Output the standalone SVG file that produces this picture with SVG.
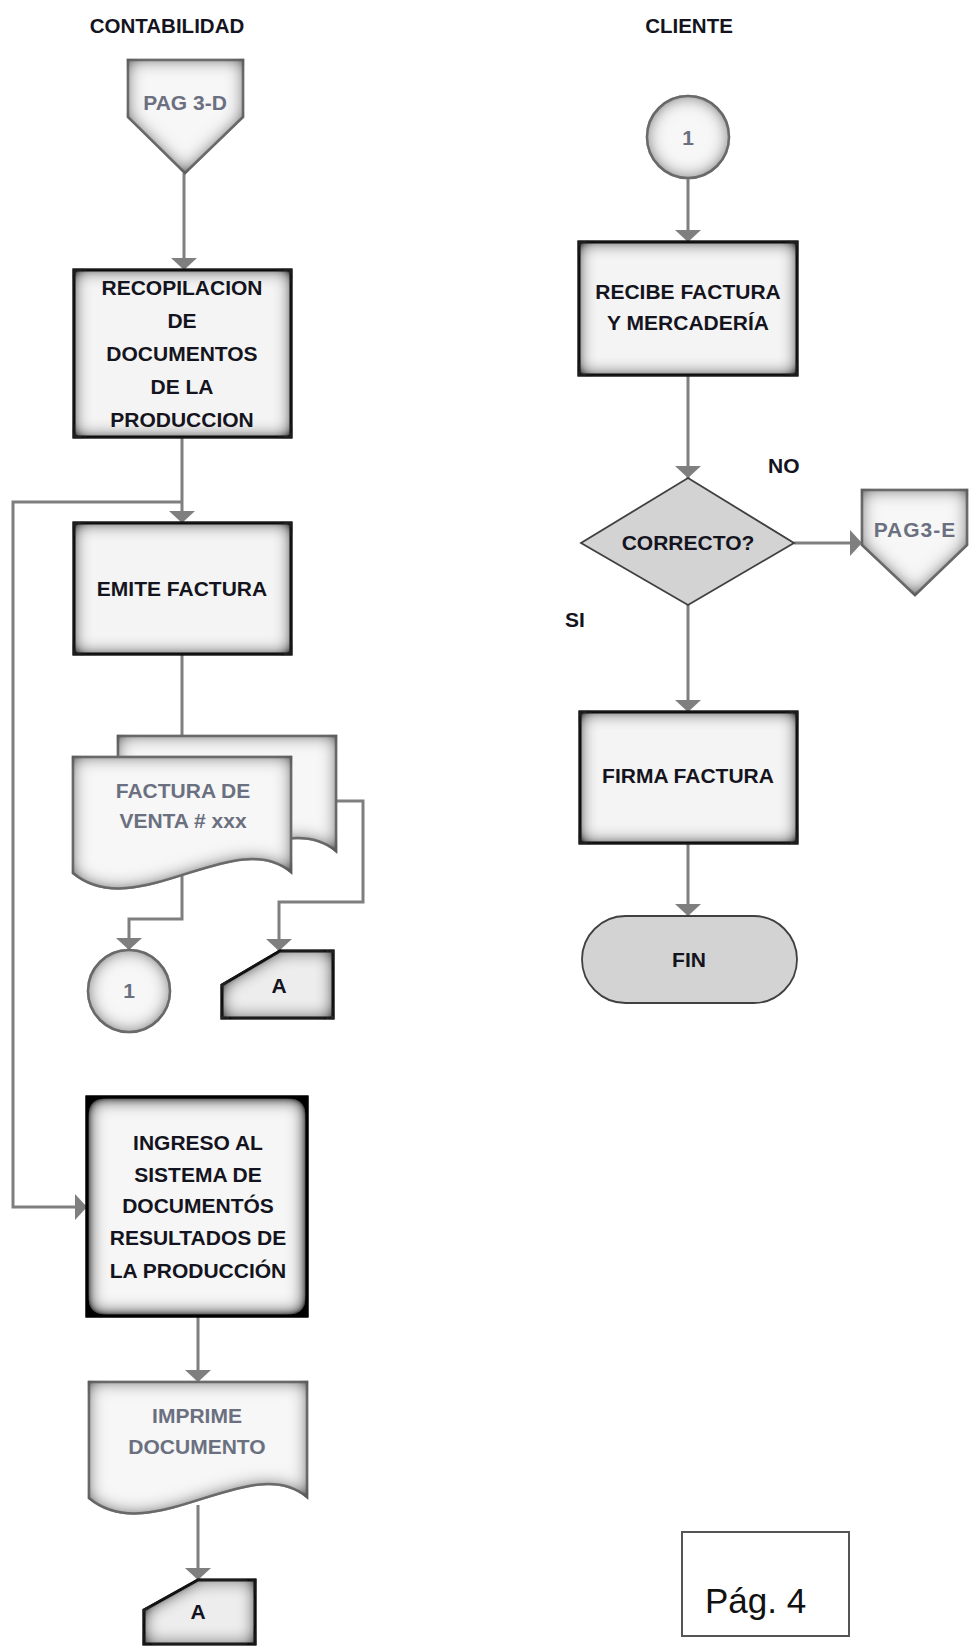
<svg xmlns="http://www.w3.org/2000/svg" width="969" height="1646" viewBox="0 0 969 1646">
  <defs>
    <style>
      .lbl { font-family: "Liberation Sans", Arial, sans-serif; font-weight: bold; font-size: 21px; fill: #141420; text-anchor: middle; }
      .soft { fill: #6b7080; }
      .head { font-size: 20.5px; }
      .free { text-anchor: start; }
      .box { fill: #f4f4f4; stroke: #1c1c1c; stroke-width: 3; filter: url(#shadeDark); }
      .boxHeavy { fill: #f6f6f6; stroke: #111; stroke-width: 3; filter: url(#shadeHeavy); }
      .light { fill: #f7f7f7; stroke: #7f7f7f; stroke-width: 2.5; filter: url(#shadeLight); }
      .manual { fill: #ededed; stroke: #1c1c1c; stroke-width: 3; filter: url(#shadeDark); }
      .flat { fill: #d3d3d3; stroke: #404040; stroke-width: 1.8; }
      .wire { fill: none; stroke: #7f7f7f; stroke-width: 3; }
      .arrow { marker-end: url(#tip); }
    </style>
    <!-- inner shading: dark edges fading toward a pale centre -->
    <filter id="shadeDark" x="-15%" y="-15%" width="130%" height="130%">
      <feFlood flood-color="#1e1e1e" flood-opacity="1"/>
      <feComposite in2="SourceAlpha" operator="out"/>
      <feGaussianBlur stdDeviation="9"/>
      <feComponentTransfer><feFuncA type="linear" slope="1.7"/></feComponentTransfer>
      <feComposite in2="SourceAlpha" operator="in" result="inner"/>
      <feMerge><feMergeNode in="SourceGraphic"/><feMergeNode in="inner"/></feMerge>
    </filter>
    <filter id="shadeHeavy" x="-15%" y="-15%" width="130%" height="130%">
      <feFlood flood-color="#000" flood-opacity="1"/>
      <feComposite in2="SourceAlpha" operator="out"/>
      <feGaussianBlur stdDeviation="10"/>
      <feComponentTransfer><feFuncA type="linear" slope="2.4"/></feComponentTransfer>
      <feComposite in2="SourceAlpha" operator="in" result="inner"/>
      <feMerge><feMergeNode in="SourceGraphic"/><feMergeNode in="inner"/></feMerge>
    </filter>
    <filter id="shadeLight" x="-15%" y="-15%" width="130%" height="130%">
      <feFlood flood-color="#5a5a5a" flood-opacity="1"/>
      <feComposite in2="SourceAlpha" operator="out"/>
      <feGaussianBlur stdDeviation="9"/>
      <feComponentTransfer><feFuncA type="linear" slope="1.4"/></feComponentTransfer>
      <feComposite in2="SourceAlpha" operator="in" result="inner"/>
      <feMerge><feMergeNode in="SourceGraphic"/><feMergeNode in="inner"/></feMerge>
    </filter>
    <marker id="tip" viewBox="0 0 12 26" refX="12" refY="13" markerWidth="12" markerHeight="26" markerUnits="userSpaceOnUse" orient="auto">
      <path d="M0,0 L12,13 L0,26 Z" fill="#7f7f7f"/>
    </marker>
    <!-- document sheet with wavy lower edge, local coordinates -->
    <path id="docShape" d="M0,0 H218 V115 C162,68 62,168 0,116 Z"/>
  </defs>

  <rect width="969" height="1646" fill="#fff"/>

  <!-- lane titles -->
  <text class="lbl head" x="167" y="33">CONTABILIDAD</text>
  <text class="lbl head" x="689" y="33">CLIENTE</text>

  <g id="connectors">
    <path class="wire arrow" d="M184,173 V270"/>
    <path class="wire arrow" d="M182,437 V523"/>
    <path class="wire arrow" d="M182,502 H13 V1207 H87"/>
    <path class="wire" d="M182,654 V737"/>
    <path class="wire arrow" d="M182,872 V919 H129 V950"/>
    <path class="wire arrow" d="M335,801 H363 V902 H279 V951"/>
    <path class="wire arrow" d="M198,1316 V1382"/>
    <path class="wire arrow" d="M198,1505 V1580"/>
    <path class="wire arrow" d="M688,178 V242"/>
    <path class="wire arrow" d="M688,375 V478"/>
    <path class="wire arrow" d="M794,543 H862"/>
    <path class="wire arrow" d="M688,605 V712"/>
    <path class="wire arrow" d="M688,843 V916"/>
  </g>

  <!-- Contabilidad lane -->
  <g id="pag3d">
    <polygon class="light" points="128,60 243,60 243,117 185,173 128,117"/>
    <text class="lbl soft" x="185" y="110">PAG 3-D</text>
  </g>

  <g id="recopilacion">
    <rect class="box" x="74" y="270" width="217" height="167"/>
    <text class="lbl" x="182" y="295">RECOPILACION</text>
    <text class="lbl" x="182" y="328">DE</text>
    <text class="lbl" x="182" y="361">DOCUMENTOS</text>
    <text class="lbl" x="182" y="394">DE LA</text>
    <text class="lbl" x="182" y="427">PRODUCCION</text>
  </g>

  <g id="emite">
    <rect class="box" x="74" y="523" width="217" height="131"/>
    <text class="lbl" x="182" y="596">EMITE FACTURA</text>
  </g>

  <g id="factura">
    <use href="#docShape" class="light" transform="translate(118,736)"/>
    <use href="#docShape" class="light" transform="translate(73,757)"/>
    <text class="lbl soft" x="183" y="798">FACTURA DE</text>
    <text class="lbl soft" x="183" y="828">VENTA # xxx</text>
  </g>

  <g id="conector1a">
    <circle class="light" cx="129" cy="991" r="41"/>
    <text class="lbl soft" x="129" y="998">1</text>
  </g>

  <g id="archivoA1">
    <polygon class="manual" points="222,985 280,951 333,951 333,1018 222,1018"/>
    <text class="lbl" x="279" y="993">A</text>
  </g>

  <g id="ingreso">
    <rect class="boxHeavy" x="87" y="1097" width="220" height="219"/>
    <text class="lbl" x="198" y="1150">INGRESO AL</text>
    <text class="lbl" x="198" y="1182">SISTEMA DE</text>
    <text class="lbl" x="198" y="1213">DOCUMENTÓS</text>
    <text class="lbl" x="198" y="1245">RESULTADOS DE</text>
    <text class="lbl" x="198" y="1278">LA PRODUCCIÓN</text>
  </g>

  <g id="imprime">
    <use href="#docShape" class="light" transform="translate(89,1382)"/>
    <text class="lbl soft" x="197" y="1423">IMPRIME</text>
    <text class="lbl soft" x="197" y="1454">DOCUMENTO</text>
  </g>

  <g id="archivoA2">
    <polygon class="manual" points="144,1610 198,1580 255,1580 255,1644 144,1644"/>
    <text class="lbl" x="198" y="1619">A</text>
  </g>

  <!-- Cliente lane -->
  <g id="conector1b">
    <circle class="light" cx="688" cy="137" r="41"/>
    <text class="lbl soft" x="688" y="145">1</text>
  </g>

  <g id="recibe">
    <rect class="box" x="579" y="242" width="218" height="133"/>
    <text class="lbl" x="688" y="299">RECIBE FACTURA</text>
    <text class="lbl" x="688" y="330">Y MERCADERÍA</text>
  </g>

  <g id="correcto">
    <polygon class="flat" points="688,478 794,543 688,605 581,543"/>
    <text class="lbl" x="688" y="550">CORRECTO?</text>
  </g>
  <text class="lbl free" x="768" y="473">NO</text>
  <text class="lbl free" x="565" y="627">SI</text>

  <g id="pag3e">
    <polygon class="light" points="862,490 967,490 967,545 915,595 862,545"/>
    <text class="lbl soft" x="915" y="537" letter-spacing="1">PAG3-E</text>
  </g>

  <g id="firma">
    <rect class="box" x="580" y="712" width="217" height="131"/>
    <text class="lbl" x="688" y="783">FIRMA FACTURA</text>
  </g>

  <g id="fin">
    <rect class="flat" x="582" y="916" width="215" height="87" rx="43.5" ry="43.5"/>
    <text class="lbl" x="689" y="967">FIN</text>
  </g>

  <g id="pagina">
    <rect x="682" y="1532" width="167" height="104" fill="#fff" stroke="#555" stroke-width="2"/>
    <text x="705" y="1613" font-family="'Liberation Sans', Arial, sans-serif" font-size="35" fill="#111">Pág. 4</text>
  </g>
</svg>
